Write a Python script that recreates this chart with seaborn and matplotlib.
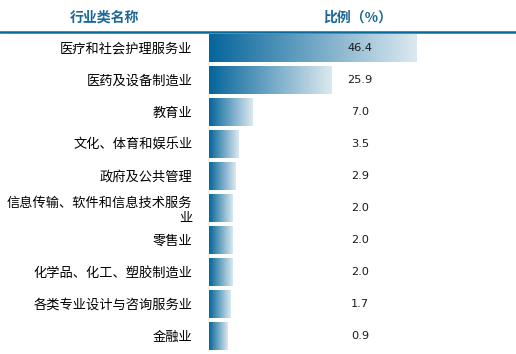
import numpy as np
import pandas as pd
import seaborn as sns
import matplotlib
matplotlib.use('Agg')
from matplotlib import pyplot as plt
from matplotlib.lines import Line2D
from matplotlib.colors import LinearSegmentedColormap

industries = ['医疗和社会护理服务业', '医药及设备制造业', '教育业', '文化、体育和娱乐业',
              '政府及公共管理', '信息传输、软件和信息技术服务\n业', '零售业',
              '化学品、化工、塑胶制造业', '各类专业设计与咨询服务业', '金融业']
shares = [46.4, 25.9, 7.0, 3.5, 2.9, 2.0, 2.0, 2.0, 1.7, 0.9]
header_name = '行业类名称'
header_value = '比例（%）'

sns.set_style('white')
plt.rcParams['font.family'] = ['Noto Sans CJK SC', 'DejaVu Sans']

W, H = 516, 354
fig = plt.figure(figsize=(W / 100, H / 100), dpi=100)
# bar area: pixel 209 -> right edge, rows between header line (y=32) and y=352
ax = fig.add_axes([209 / W, (H - 352) / H, (W - 209) / W, 320 / H])

df = pd.DataFrame({'industry': industries, 'share': shares})
sns.barplot(data=df, x='share', y='industry', orient='h', width=0.875,
            facecolor='none', edgecolor='none', ax=ax)

x0 = -3.6  # minimum bar stub
px_per_unit = 4.15
cmap = LinearSegmentedColormap.from_list('blu', ['#05659b', '#dce9f0'])
grad = np.linspace(0, 1, 256).reshape(1, -1)
for p, v in zip(ax.patches, shares):
    y = p.get_y()
    h = p.get_height()
    ax.imshow(grad, cmap=cmap, aspect='auto', extent=[x0, v, y + h, y],
              interpolation='bilinear', zorder=2)
    ax.text(0.492, y + h / 2, f'{v:.1f}', transform=ax.get_yaxis_transform(),
            ha='center', va='center', fontsize=8.2, color='#1a1a1a',
            family=['DejaVu Sans'])

ax.set_xlim(x0, x0 + (W - 209) / px_per_unit)
ax.set_ylim(len(shares) - 0.5, -0.5)
ax.set_yticks(range(len(industries)))
ax.set_yticklabels(industries, fontsize=9.5, color='black', linespacing=1.25)
ax.tick_params(axis='y', length=0, pad=12)
ax.set_xticks([])
ax.set_xlabel('')
ax.set_ylabel('')
for s in ax.spines.values():
    s.set_visible(False)

head_color = '#1b6898'
fig.text(104 / W, 1 - 18 / H, header_name, ha='center', va='center',
         fontsize=10, fontweight='bold', color=head_color)
fig.text(358 / W, 1 - 18 / H, header_value, ha='center', va='center',
         fontsize=10, fontweight='bold', color=head_color)
fig.add_artist(Line2D([0, 1], [1 - 32 / H, 1 - 32 / H], transform=fig.transFigure,
                      color='#0b6a9c', lw=1.8))

fig.savefig('out.png', dpi=100)
